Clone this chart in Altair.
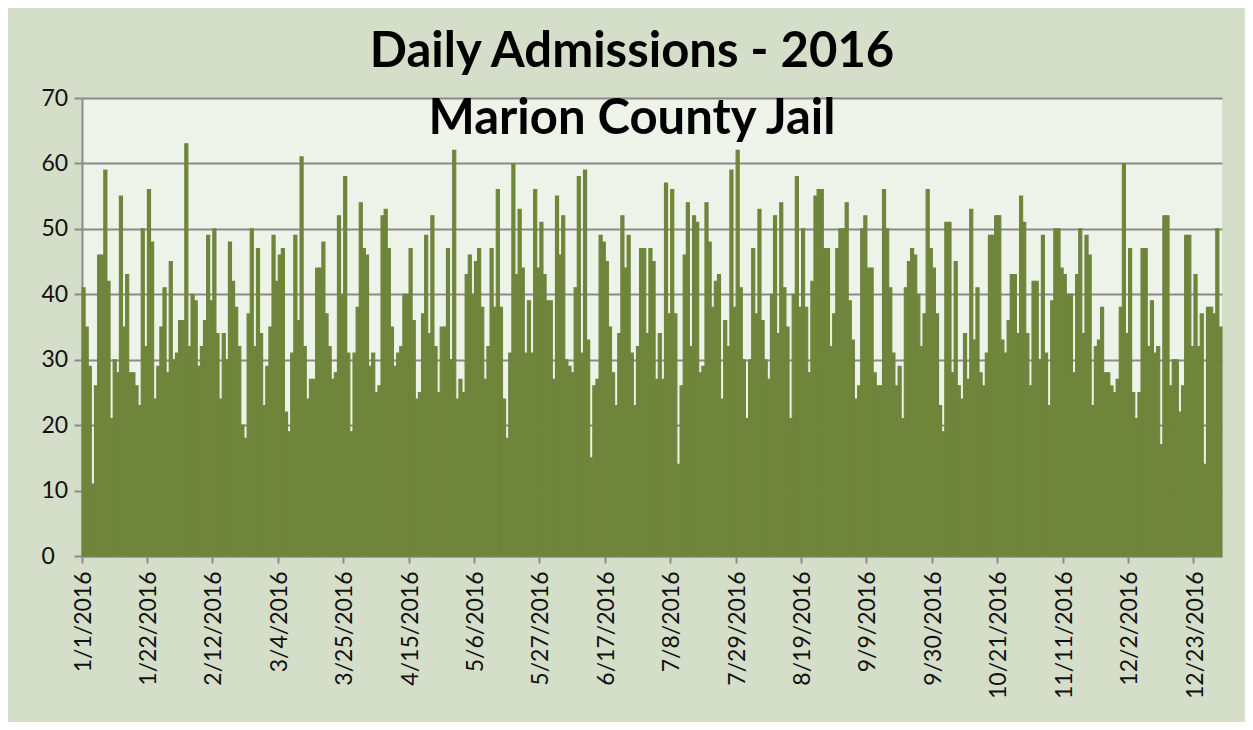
import altair as alt
import pandas as pd

# Daily admissions, one value per day of 2016 (366 days)
seg1 = [41, 35, 29, 11, 26, 46, 46, 59, 42, 21, 30, 28, 55, 35, 43, 28, 28, 26, 23, 50,
        32, 56, 48, 24, 29, 35, 41, 28, 45, 30, 31, 36, 36, 63, 32, 40, 39]
seg2 = [29, 32, 36, 49, 39, 50, 34, 24, 34, 30, 48, 42, 38, 32, 20, 18, 37, 50, 32, 47,
        34, 23, 29, 35, 49, 42, 46, 47, 22, 19, 31, 49, 36, 61, 32, 24, 27]
seg3 = [27, 44, 44, 48, 37, 32, 27, 28, 52, 40, 58, 31, 19, 31, 38, 54, 47, 46, 29, 31,
        25, 26, 52, 53, 47, 35, 29, 31, 32, 40, 40, 47, 36, 24, 25, 37, 49]
seg4 = [34, 52, 32, 25, 35, 35, 47, 30, 62, 24, 27, 25, 43, 46, 40, 45, 47, 38, 27, 32,
        47, 38, 56, 38, 24, 18, 31, 60, 43, 53, 44, 31, 39, 31, 56, 44, 51]
seg5 = [43, 39, 39, 27, 55, 46, 52, 30, 29, 28, 41, 58, 31, 59, 33, 15, 26, 27, 49, 48,
        45, 35, 28, 23, 34, 52, 44, 49, 31, 23, 32, 47, 47, 34, 47, 45, 27]
seg6 = [34, 27, 57, 37, 56, 37, 14, 26, 46, 54, 32, 52, 51, 28, 29, 54, 48, 38, 42, 43,
        24, 36, 32, 59, 38, 62, 41, 30, 21, 30, 47, 37, 53, 36, 30, 27]
seg7 = [40, 52, 34, 54, 41, 35, 21, 40, 58, 38, 50, 38, 28, 42, 55, 56, 56, 47, 47, 32,
        37, 47, 50, 50, 54, 39, 33, 24, 26, 50, 52, 44, 44, 28, 26, 26, 56, 50]
seg8 = [41, 31, 26, 29, 21, 41, 45, 47, 46, 40, 32, 37, 56, 47, 44, 37, 23, 19, 51, 51,
        28, 45, 26, 24, 34, 27, 53, 33, 41, 28, 26, 31, 49, 49, 52, 52]
seg9 = [33, 31, 36, 43, 43, 34, 55, 51, 34, 26, 42, 42, 30, 49, 31, 23, 39, 50, 50, 44,
        43, 40, 40, 28, 43, 50, 34, 49, 46, 23, 32, 33, 38, 28, 28, 26, 25, 27]
seg10 = [38, 60, 34, 47, 25, 21, 25, 47, 47, 32, 39, 31, 32, 17, 52, 52, 26, 30, 30, 22,
         26, 49, 49, 32, 43, 32, 37, 14, 38, 38, 37, 50, 35]

admissions = seg1 + seg2 + seg3 + seg4 + seg5 + seg6 + seg7 + seg8 + seg9 + seg10

tick_labels = ["1/1/2016", "1/22/2016", "2/12/2016", "3/4/2016", "3/25/2016",
               "4/15/2016", "5/6/2016", "5/27/2016", "6/17/2016", "7/8/2016",
               "7/29/2016", "8/19/2016", "9/9/2016", "9/30/2016", "10/21/2016",
               "11/11/2016", "12/2/2016", "12/23/2016"]
y_ticks = [0, 10, 20, 30, 40, 50, 60, 70]

title_text = "Daily Admissions - 2016"
subtitle_text = "Marion County Jail"

dates = pd.date_range("2016-01-01", periods=len(admissions), freq="D")
df = pd.DataFrame({
    "day": [f"{d.month}/{d.day}/{d.year}" for d in dates],
    "admissions": admissions,
})

FONT = "Lato"
BAR = "#6f853b"

bars = alt.Chart(df).mark_bar(color=BAR, stroke=BAR, strokeWidth=1.1).encode(
    x=alt.X("day:O", sort=None, title=None,
            scale=alt.Scale(paddingInner=0, paddingOuter=0),
            axis=alt.Axis(values=tick_labels, labelAngle=270, labelAlign="right",
                          labelBaseline="middle", labelFontSize=23, labelFont=FONT,
                          labelColor="#111111", labelPadding=8, tickSize=7,
                          tickColor="#8c8c8c", tickWidth=2, domainColor="#8c8c8c",
                          domainWidth=2, bandPosition=0, grid=False,
                          labelOverlap=False)),
    y=alt.Y("admissions:Q", title=None,
            scale=alt.Scale(domain=[0, 70], nice=False),
            axis=alt.Axis(values=y_ticks, labelFontSize=23, labelFont=FONT,
                          labelColor="#111111", labelAlign="left", labelPadding=33,
                          tickSize=8, tickColor="#8c8c8c", tickWidth=2,
                          domainColor="#8c8c8c", domainWidth=2, grid=True,
                          gridColor="#8a8a8a", gridWidth=2)),
)

tdf = pd.DataFrame({"t": [title_text]})
sdf = pd.DataFrame({"t": [subtitle_text]})


def text_layer(data, y):
    return alt.Chart(data).mark_text(
        font=FONT, fontSize=49, fontWeight="bold", color="#000000", align="center",
        baseline="alphabetic",
    ).encode(x=alt.value(550), y=alt.value(y), text="t:N")


layers = [
    bars,
    text_layer(tdf, -31),
    text_layer(sdf, 36),
]

chart = alt.layer(*layers).properties(
    width=1140, height=458,
    padding={"left": 74, "top": 90, "right": 23, "bottom": 166},
    autosize=alt.AutoSizeParams(type="none"),
    background="#d5dec9",
).configure_view(fill="#eef3ea", stroke=None)

chart.save("out.html", embed_options={"renderer": "svg", "actions": False})
